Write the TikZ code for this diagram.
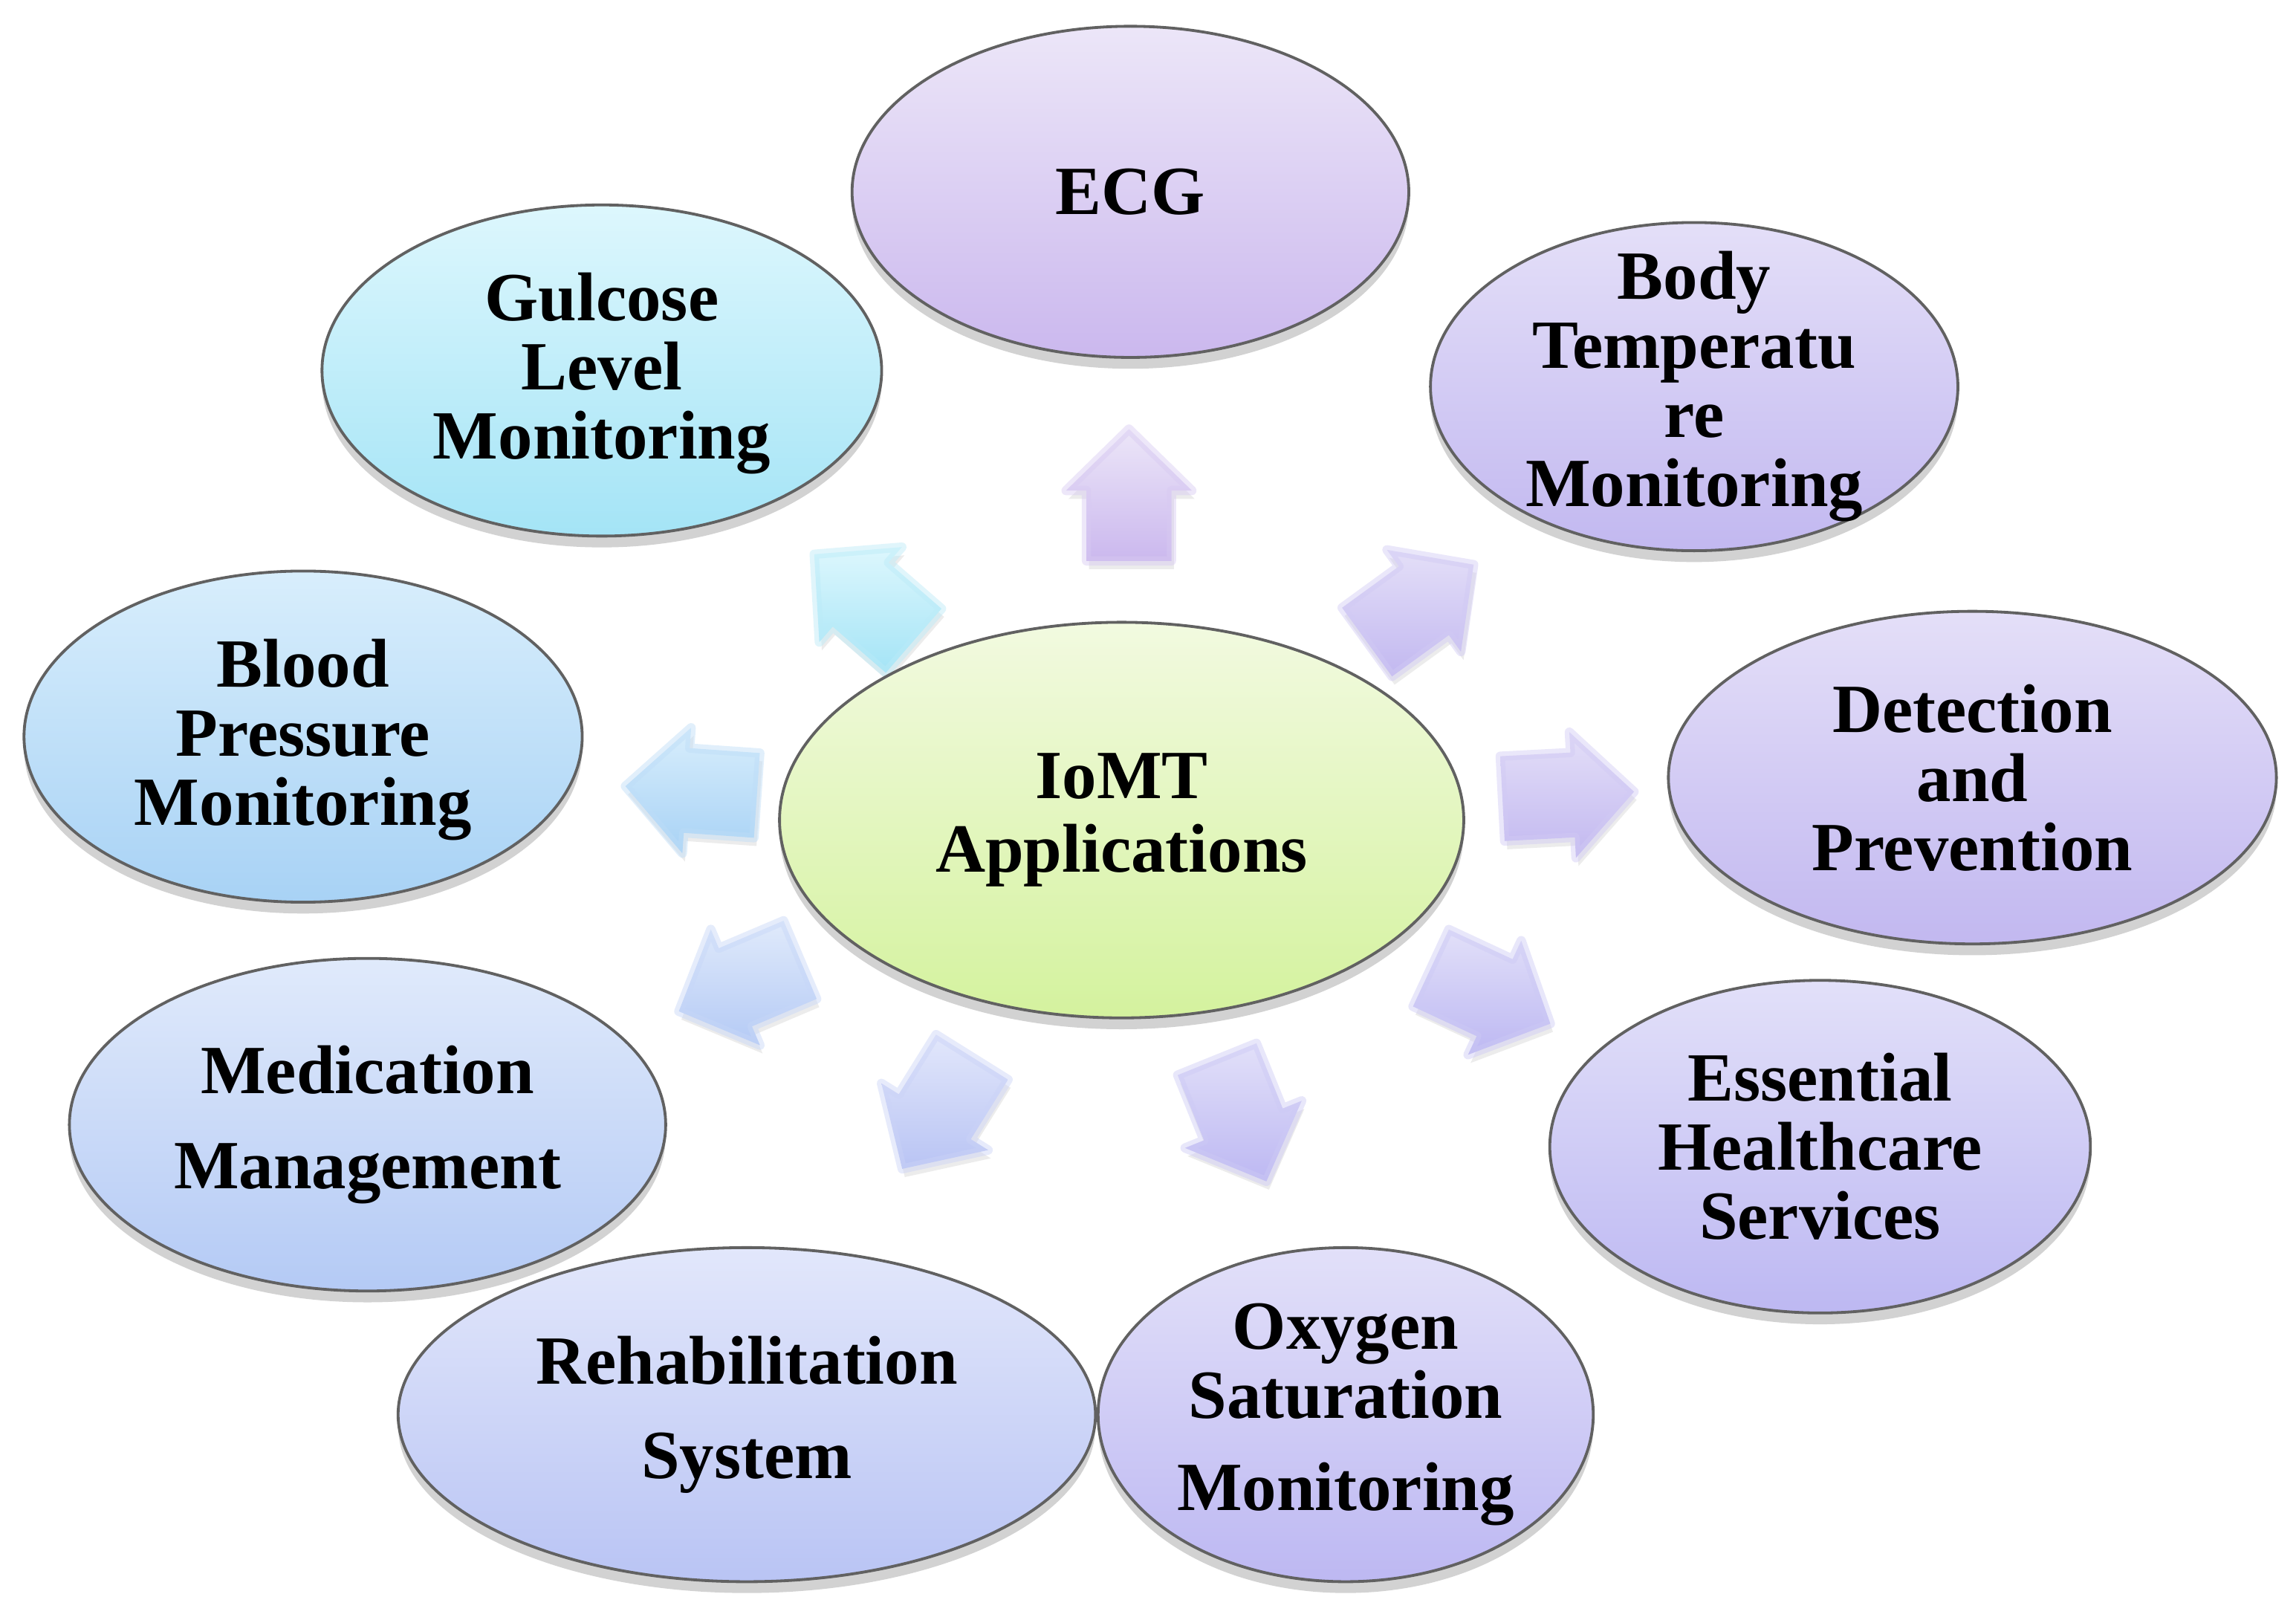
\documentclass[tikz,border=0pt]{standalone}
\usepackage{fontspec}
\setmainfont{Liberation Serif}
\usetikzlibrary{calc,shadows,shapes.geometric}
\definecolor{lavT}{HTML}{ECE6F8}\definecolor{lavB}{HTML}{CBB8EE}
\definecolor{cyaT}{HTML}{DDF7FD}\definecolor{cyaB}{HTML}{A4E4F6}
\definecolor{bluT}{HTML}{D8EEFC}\definecolor{bluB}{HTML}{A8D2F5}
\definecolor{grnT}{HTML}{F2FAE0}\definecolor{grnB}{HTML}{D4F29E}
\definecolor{vioT}{HTML}{E4DFF8}\definecolor{vioB}{HTML}{C2B8F0}
\definecolor{perT}{HTML}{E0EAFB}\definecolor{perB}{HTML}{B4CAF5}
\definecolor{indT}{HTML}{E2E0F9}\definecolor{indB}{HTML}{BDB8F2}
\definecolor{rehT}{HTML}{E2E7FB}\definecolor{rehB}{HTML}{B9C4F4}
\tikzset{
  bubble/.style={ellipse, draw=black!62, line width=0.55pt, inner sep=0pt,
    drop shadow={opacity=0.35, shadow xshift=0pt, shadow yshift=-2.2pt}},
  txt/.style={align=center, inner sep=0pt, text=black,
    font=\bfseries\fontsize{13.4}{13.4}\selectfont},
  blk/.style={line width=1.8pt, line join=round, draw opacity=0.45,
    drop shadow={opacity=0.15, shadow xshift=0.5pt, shadow yshift=-1.6pt}}
}
% #1 centre coordinate, #2 angle, #3 top colour, #4 bottom colour
\newcommand\blkarrow[4]{%
  \path[blk, top color=#3, bottom color=#4, draw=#4!75!white]
    ($(#1)+(#2:-45)+(#2+90:29)$) -- ($(#1)+(#2:3)+(#2+90:29)$) --
    ($(#1)+(#2:3)+(#2+90:43)$) -- ($(#1)+(#2:45)$) --
    ($(#1)+(#2:3)+(#2+90:-43)$) -- ($(#1)+(#2:3)+(#2+90:-29)$) --
    ($(#1)+(#2:-45)+(#2+90:-29)$) -- cycle;}
\begin{document}
\begin{tikzpicture}[x=0.01cm, y=-0.01cm]
\useasboundingbox[fill=white] (0,0) rectangle (1568,1106);

% block arrows
\coordinate (a1) at (771,338);
\coordinate (a2) at (590,408);
\coordinate (a3) at (970,412);
\coordinate (a4) at (472,540);
\coordinate (a5) at (1071,543);
\coordinate (a6) at (505,673);
\coordinate (a7) at (1018,680);
\coordinate (a8) at (640,760);
\coordinate (a9) at (848,765);
\blkarrow{a1}{-90}{lavT}{lavB}
\blkarrow{a2}{-139}{cyaT}{cyaB}
\blkarrow{a3}{-36}{vioT}{vioB}
\blkarrow{a4}{184}{bluT}{bluB}
\blkarrow{a5}{-3}{vioT}{vioB}
\blkarrow{a6}{157}{perT}{perB}
\blkarrow{a7}{25}{indT}{indB}
\blkarrow{a8}{122}{rehT}{rehB}
\blkarrow{a9}{68}{indT}{indB}

% ellipses
\node[bubble, minimum width=3.80cm, minimum height=2.26cm, top color=lavT, bottom color=lavB] (ecg) at (772,131) {};
\node[bubble, minimum width=3.82cm, minimum height=2.26cm, top color=cyaT, bottom color=cyaB] (glu) at (411,253) {};
\node[bubble, minimum width=3.60cm, minimum height=2.24cm, top color=vioT, bottom color=vioB] (bt) at (1157,264) {};
\node[bubble, minimum width=3.81cm, minimum height=2.26cm, top color=bluT, bottom color=bluB] (bp) at (207,503) {};
\node[bubble, minimum width=4.67cm, minimum height=2.70cm, top color=grnT, bottom color=grnB] (iomt) at (766,560) {};
\node[bubble, minimum width=4.15cm, minimum height=2.27cm, top color=vioT, bottom color=vioB] (det) at (1347,531) {};
\node[bubble, minimum width=4.07cm, minimum height=2.27cm, top color=perT, bottom color=perB] (med) at (251,768) {};
\node[bubble, minimum width=3.69cm, minimum height=2.27cm, top color=indT, bottom color=indB] (ess) at (1243,783) {};
\node[bubble, minimum width=4.76cm, minimum height=2.28cm, top color=rehT, bottom color=rehB] (reh) at (510,966) {};
\node[bubble, minimum width=3.38cm, minimum height=2.28cm, top color=indT, bottom color=indB] (oxy) at (919,966) {};

% texts
\node[txt] (ecg-t) at (ecg) {ECG};
\node[txt] (glu-t) at ($(glu)+(0,2)$) {Gulcose\\Level\\Monitoring};
\node[txt] (bt-t) at (bt) {Body\\Temperatu\\re\\Monitoring};
\node[txt] (bp-t) at ($(bp)+(0,2)$) {Blood\\Pressure\\Monitoring};
\node[txt] (iomt-t) at (iomt) {IoMT\\[1pt]Applications};
\node[txt] (det-t) at (det) {Detection\\and\\Prevention};
\node[txt] (med-t) at (med) {Medication\\[5pt]Management};
\node[txt] (ess-t) at (ess) {Essential\\Healthcare\\Services};
\node[txt] (reh-t) at (reh) {Rehabilitation\\[5pt]System};
\node[txt] (oxy-t) at (oxy) {Oxygen\\Saturation\\[4.5pt]Monitoring};
\end{tikzpicture}
\end{document}
